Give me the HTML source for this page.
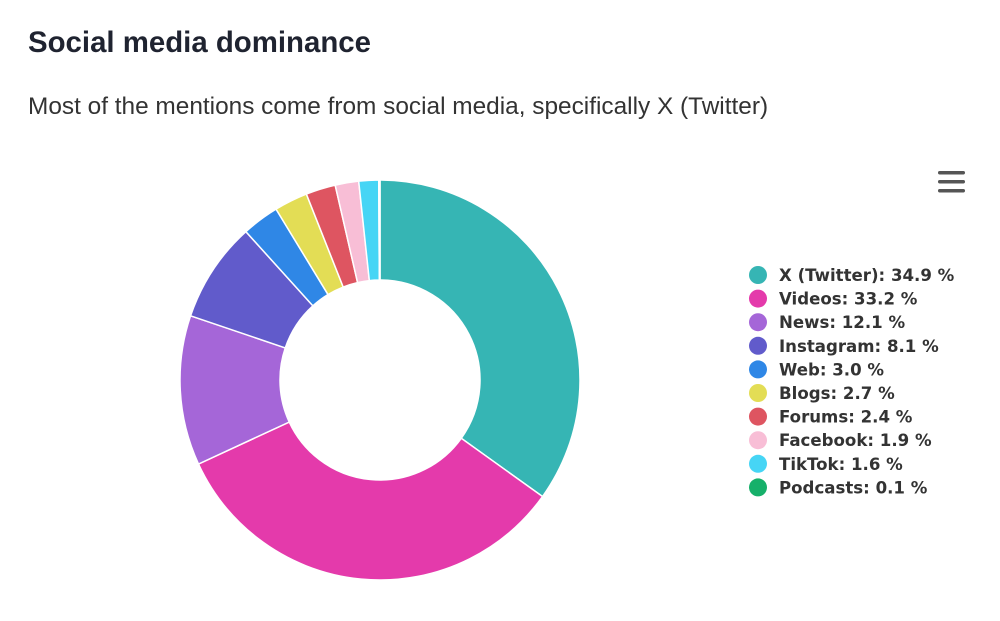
<!DOCTYPE html>
<html><head><meta charset="utf-8"><style>
body{margin:0;width:1000px;height:621px;background:#fff;overflow:hidden;font-family:"Liberation Sans",sans-serif}
.t{position:absolute;left:28px;top:26px;font-size:29.4px;font-weight:bold;color:#1f2330}
.s{position:absolute;left:28px;top:93px;font-size:24.4px;color:#333}
</style></head><body>
<div class="t">Social media dominance</div>
<div class="s">Most of the mentions come from social media, specifically X (Twitter)</div>
<svg id="c" width="1000" height="621" style="position:absolute;left:0;top:0">
<g fill="#555"><rect x="938" y="171" width="27" height="3.5" rx="1.7"/><rect x="938" y="180" width="27" height="3.5" rx="1.7"/><rect x="938" y="189" width="27" height="3.5" rx="1.7"/></g>
<g id="pie"></g><g id="leg" font-family="DejaVu Sans,sans-serif" font-weight="bold" font-size="16.6" fill="#333"></g>
</svg>
<script>
var d=[["X (Twitter)",34.9,"#36b5b4"],["Videos",33.2,"#e43aab"],["News",12.1,"#a566d8"],["Instagram",8.1,"#615bcb"],["Web",3.0,"#2f87e6"],["Blogs",2.7,"#e3dd55"],["Forums",2.4,"#de5561"],["Facebook",1.9,"#f8bed6"],["TikTok",1.6,"#46d5f5"],["Podcasts",0.1,"#16b06a"]];
var cx=380,cy=380,R=200,r=100,a=0,h="",l="";
function p(rad,ang){return (cx+rad*Math.sin(ang)).toFixed(2)+","+(cy-rad*Math.cos(ang)).toFixed(2);}
d.forEach(function(e,i){var a0=a*Math.PI/50,a1=(a+e[1])*Math.PI/50;a+=e[1];var lg=(a1-a0)>Math.PI?1:0;
h+='<path d="M'+p(R,a0)+' A'+R+','+R+' 0 '+lg+' 1 '+p(R,a1)+' L'+p(r,a1)+' A'+r+','+r+' 0 '+lg+' 0 '+p(r,a0)+' Z" fill="'+e[2]+'" stroke="#fff" stroke-width="1.5"/>';
var y=275+i*23.6;l+='<circle cx="758" cy="'+y+'" r="9" fill="'+e[2]+'"/><text x="779" y="'+(y+6)+'">'+e[0]+': '+e[1].toFixed(1)+' %</text>';});
document.getElementById("pie").innerHTML=h;document.getElementById("leg").innerHTML=l;
</script>
</body></html>
